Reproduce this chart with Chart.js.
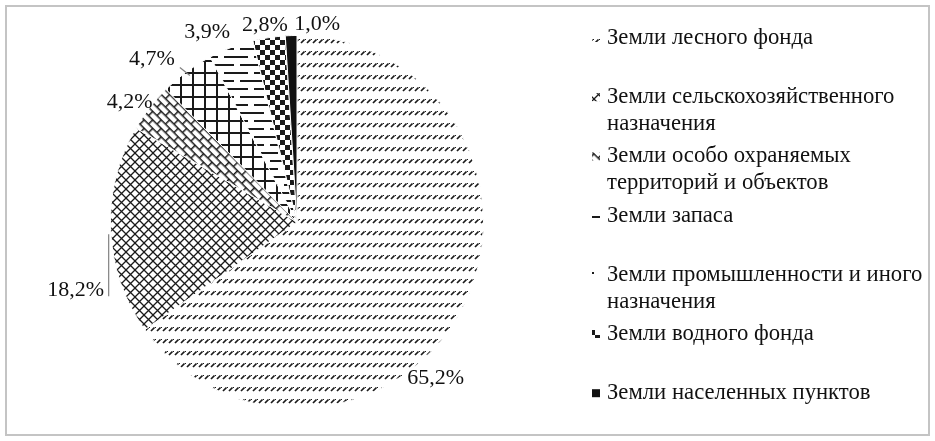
<!DOCTYPE html>
<html>
<head>
<meta charset="utf-8">
<script src="https://cdn.jsdelivr.net/npm/chart.js@4.4.1/dist/chart.umd.min.js"></script>
<style>
  html, body { margin: 0; padding: 0; background: #fff; }
  #wrap { width: 935px; height: 441px; position: relative; }
</style>
</head>
<body>
<div id="wrap"><canvas id="landChart" width="935" height="441"></canvas></div>
<script>
// структура земельного фонда, %
var categories = [
    ['Земли лесного фонда'],
    ['Земли сельскохозяйственного', 'назначения'],
    ['Земли особо охраняемых', 'территорий и объектов'],
    ['Земли запаса'],
    ['Земли промышленности и иного', 'назначения'],
    ['Земли водного фонда'],
    ['Земли населенных пунктов']
];
var shares = [65.2, 18.2, 4.2, 4.7, 3.9, 2.8, 1.0];

// сдвиг подписи от внешней точки сектора (dx, dy)
var labelShift = [[-27, 71], [-35, 60], [-20, -5], [-35, -12], [-24, -15], [-4, -12], [26, -11]];
// линии выноски: [сектор, x1, y1, x2, y2] от той же точки
var leaders = [[1, -2, 4, -2, 66], [3, 3, 4, -7, -4]];

var ink = '#1a1a1a';
var serif = '"Liberation Serif", "Times New Roman", serif';

function tile(w, h, draw) {
    var c = document.createElement('canvas');
    c.width = w; c.height = h;
    var g = c.getContext('2d');
    g.fillStyle = '#fff';
    g.fillRect(0, 0, w, h);
    g.fillStyle = ink;
    g.strokeStyle = ink;
    draw(g);
    return c;
}

var canvas = document.getElementById('landChart');
var ctx = canvas.getContext('2d');

function pattern(c, angle) {
    var p = ctx.createPattern(c, 'repeat');
    if (angle) p.setTransform(new DOMMatrix().rotate(angle));
    return p;
}

var fills = [
    // лесной фонд: мелкие косые штрихи рядами
    pattern(tile(6, 12, function (g) {
        g.lineWidth = 1.7;
        g.beginPath(); g.moveTo(1, 7); g.lineTo(4.5, 3.5); g.stroke();
        g.fillRect(5, 3, 1, 1);
    })),
    // сельхоз: ромбическая сетка
    pattern(tile(9, 9, function (g) {
        g.lineWidth = 1.3;
        g.beginPath();
        g.moveTo(0, 0); g.lineTo(9, 9);
        g.moveTo(9, 0); g.lineTo(0, 9);
        g.stroke();
    })),
    // ООПТ: кирпичи по диагонали
    pattern(tile(12, 12, function (g) {
        g.fillRect(0, 0, 12, 1.5);
        g.fillRect(0, 6, 12, 1.5);
        g.fillRect(0, 0, 1.5, 6);
        g.fillRect(6, 6, 1.5, 6);
    }), 45),
    // запас: крупная сетка
    pattern(tile(12, 12, function (g) {
        g.fillRect(0, 0, 12, 2);
        g.fillRect(0, 0, 2, 12);
    })),
    // промышленность: горизонтальные штрихи
    pattern(tile(30, 16, function (g) {
        g.fillRect(0, 0, 24, 2);
        g.fillRect(14, 8, 16, 2);
        g.fillRect(0, 8, 8, 2);
    })),
    // водный фонд: шахматка
    pattern(tile(10, 10, function (g) {
        g.fillRect(0, 0, 5, 5);
        g.fillRect(5, 5, 5, 5);
    })),
    // населенные пункты: сплошная заливка
    '#111'
];

var framePlugin = {
    id: 'frame',
    beforeDraw: function (chart) {
        var c = chart.ctx;
        c.save();
        c.fillStyle = '#fff';
        c.fillRect(0, 0, chart.width, chart.height);
        c.strokeStyle = '#c4c4c4';
        c.lineWidth = 2;
        c.strokeRect(6, 6, chart.width - 12, chart.height - 12);
        c.restore();
    }
};

var labelPlugin = {
    id: 'sliceLabels',
    afterDatasetsDraw: function (chart) {
        var c = chart.ctx;
        var arcs = chart.getDatasetMeta(0).data;
        var anchors = arcs.map(function (a) {
            var mid = (a.startAngle + a.endAngle) / 2;
            return [a.x + a.outerRadius * Math.cos(mid), a.y + a.outerRadius * Math.sin(mid)];
        });
        c.save();
        c.strokeStyle = '#808080';
        c.lineWidth = 1.2;
        leaders.forEach(function (l) {
            var p = anchors[l[0]];
            c.beginPath();
            c.moveTo(p[0] + l[1], p[1] + l[2]);
            c.lineTo(p[0] + l[3], p[1] + l[4]);
            c.stroke();
        });
        c.fillStyle = '#111';
        c.font = '22px ' + serif;
        c.textAlign = 'center';
        c.textBaseline = 'middle';
        shares.forEach(function (v, i) {
            var p = anchors[i];
            c.fillText(v.toFixed(1).replace('.', ',') + '%', p[0] + labelShift[i][0], p[1] + labelShift[i][1]);
        });
        c.restore();
    }
};

var legendPlugin = {
    id: 'sideLegend',
    afterDraw: function (chart) {
        var c = chart.ctx;
        c.save();
        c.font = '22.7px ' + serif;
        c.textBaseline = 'middle';
        c.textAlign = 'left';
        categories.forEach(function (lines, i) {
            var y = 38 + i * 59.2;
            c.fillStyle = fills[i];
            c.fillRect(592, y - 4, 8, 8);
            c.fillStyle = '#111';
            lines.forEach(function (t, k) {
                c.fillText(t, 607, y + k * 27);
            });
        });
        c.restore();
    }
};

new Chart(canvas, {
    type: 'pie',
    data: {
        labels: categories.map(function (l) { return l.join(' '); }),
        datasets: [{
            data: shares,
            backgroundColor: fills,
            borderColor: '#fff',
            borderWidth: 1
        }]
    },
    options: {
        responsive: false,
        animation: false,
        layout: { padding: { left: 110, right: 451, top: 35, bottom: 32 } },
        plugins: {
            legend: { display: false },
            tooltip: { enabled: false }
        }
    },
    plugins: [framePlugin, labelPlugin, legendPlugin]
});
</script>
</body>
</html>
